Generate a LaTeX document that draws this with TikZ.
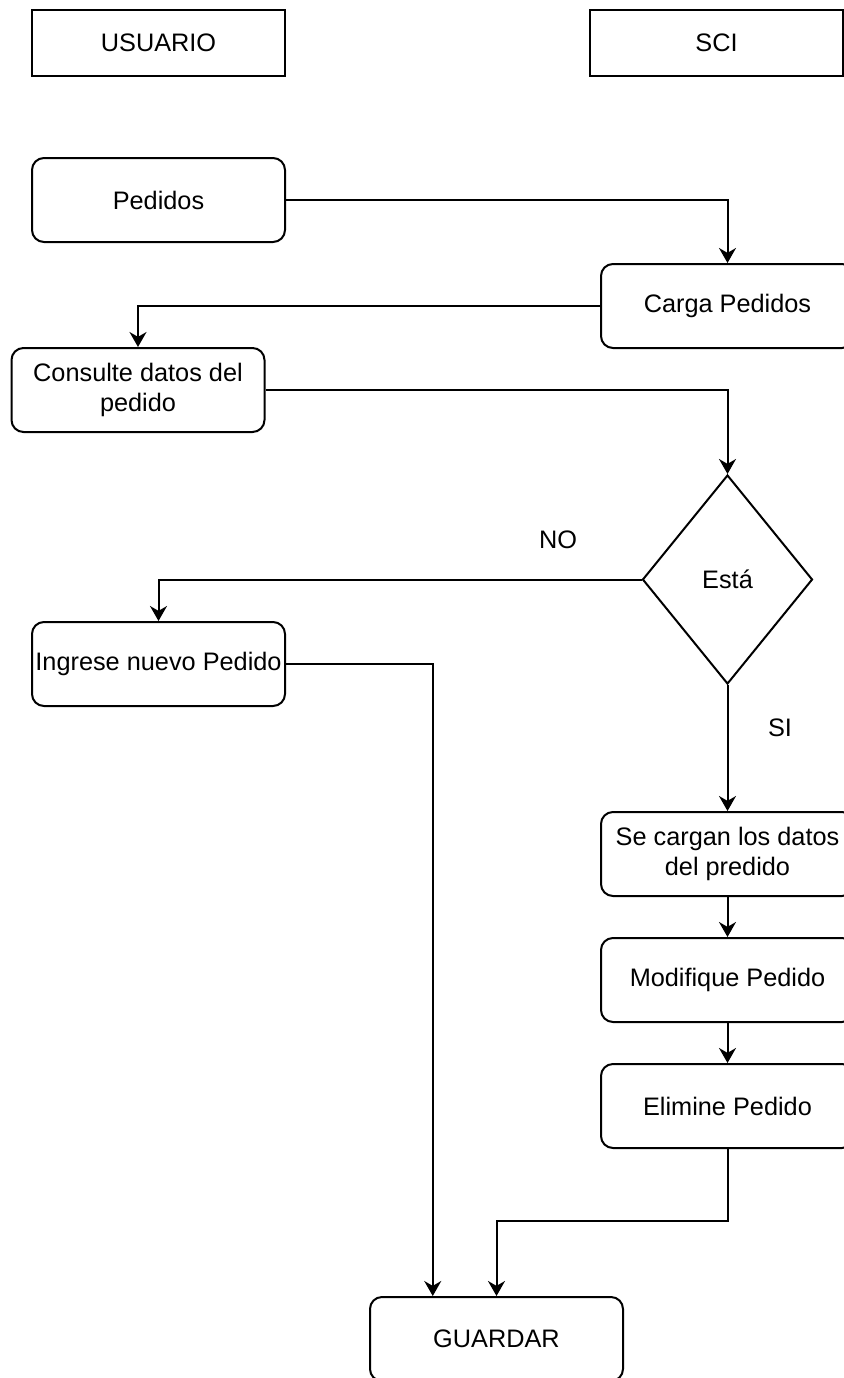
\documentclass[tikz,border=0pt]{standalone}
\usepackage{fontspec}
\setmainfont{Liberation Sans}
\usetikzlibrary{shapes.geometric,arrows.meta,calc}
\begin{document}
\begin{tikzpicture}[x=0.5pt,y=-0.5pt,
  font=\fontsize{12.65}{15}\selectfont,
  head/.style={draw,line width=1pt,minimum width=126.5pt,minimum height=33pt,inner sep=0pt},
  proc/.style={draw,line width=1pt,rounded corners=6pt,minimum width=126.5pt,minimum height=42pt,inner sep=0pt,align=center},
  decision/.style={draw,line width=1pt,diamond,aspect=0.813,minimum width=85pt,minimum height=104.5pt,inner sep=0pt},
  arr/.style={line width=1pt,-{Stealth[length=7.5pt,width=8.5pt]}}]
\useasboundingbox (0,0) rectangle (844,1378);
\clip (0,0) rectangle (844,1378);
\node[head] (usuario) at (158.5,43) {USUARIO};
\node[head] (sci) at (716.5,43) {SCI};
\node[proc] (pedidos) at (158.5,200) {Pedidos};
\node[proc] (carga) at (727.5,306) {Carga Pedidos};
\node[proc] (consulte) at (138,390) {Consulte datos del\\pedido};
\node[decision] (esta) at (727.5,579.5) {Está};
\node[proc] (ingrese) at (158.5,664) {Ingrese nuevo Pedido};
\node[proc] (cargan) at (727.5,854) {Se cargan los datos\\del predido};
\node[proc] (modif) at (727.5,980) {Modifique Pedido};
\node[proc] (elimine) at (727.5,1106) {Elimine Pedido};
\node[proc] (guardar) at (496.5,1339) {GUARDAR};
\node (no) at (558,540) {NO};
\node (si) at (780,728) {SI};
\draw[arr] (pedidos.east) -| (carga.north);
\draw[arr] (carga.west) -| (consulte.north);
\draw[arr] (consulte.east) -| (esta.north);
\draw[arr] (esta.west) -| (ingrese.north);
\draw[arr] (esta.south) -- (cargan.north);
\draw[arr] (cargan.south) -- (modif.north);
\draw[arr] (modif.south) -- (elimine.north);
\draw[arr] (elimine.south) -- ++(0,72) -| (guardar.north);
\draw[arr] (ingrese.east) -| ($(guardar.north)!0.5!(guardar.north west)$);
\end{tikzpicture}
\end{document}
